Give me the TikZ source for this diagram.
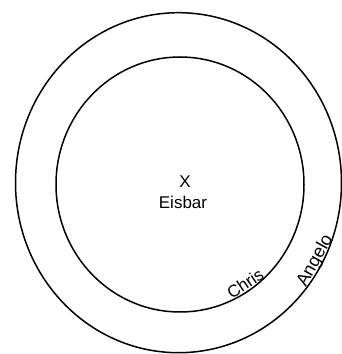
\documentclass[tikz,border=0pt]{standalone}
\usepackage{fontspec}
\setmainfont{Liberation Sans}
\begin{document}
\begin{tikzpicture}[x=1pt,y=1pt,
  ring/.style={draw=black,line width=1.5pt},
  lbl/.style={inner sep=0pt,font=\fontsize{17}{17}\selectfont}]
\useasboundingbox (0,0) rectangle (342,354);
\draw[ring] (178.5,171.3) ellipse [x radius=163, y radius=170];
\draw[ring] (180,169.5) ellipse [x radius=124, y radius=127.5];
\node[lbl] (x) at (185,172) {X};
\node[lbl] (eisbar) at (183,152) {Eisbar};
\node[lbl,anchor=base,rotate=34] (chris) at (248.5,65.5) {Chris};
\node[lbl,anchor=base,rotate=61,font=\fontsize{18}{18}\selectfont] (angelo) at (319.5,91) {Angelo};
\end{tikzpicture}
\end{document}
